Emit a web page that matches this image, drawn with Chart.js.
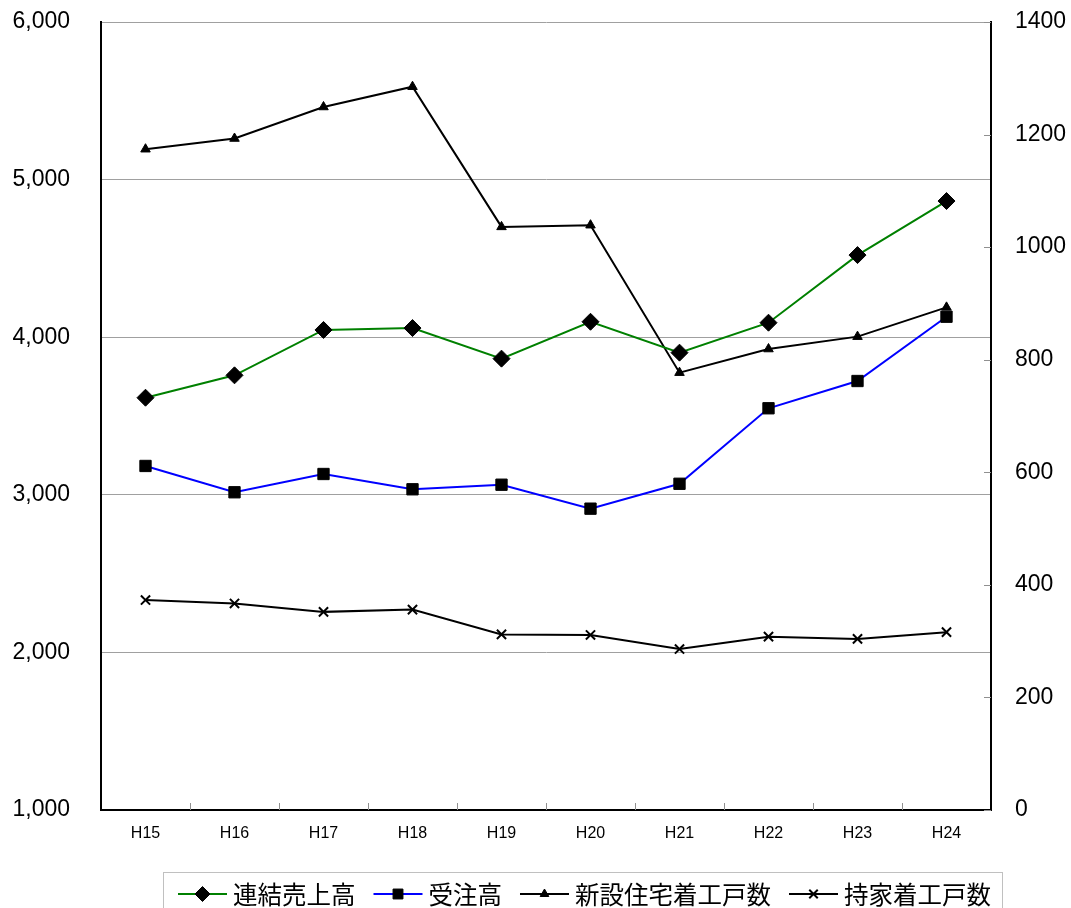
<!DOCTYPE html>
<html>
<head>
<meta charset="utf-8">
<script src="https://cdn.jsdelivr.net/npm/chart.js@4"></script>
<style>
	body { margin: 0; background: #fff; }
	canvas { display: block; }
</style>
</head>
<body>
<canvas id="salesChart" width="1071" height="908"></canvas>
<script>
const years = ['H15', 'H16', 'H17', 'H18', 'H19', 'H20', 'H21', 'H22', 'H23', 'H24']
// 左軸 (百万円)
const consolidatedSales = [3616, 3758, 4046, 4058, 3864, 4098, 3902, 4092, 4521, 4864]
const ordersReceived = [3183, 3016, 3132, 3035, 3064, 2912, 3070, 3549, 3722, 4130]
// 右軸 (千戸)
const housingStarts = [1174, 1193, 1249, 1285, 1036, 1039, 777, 819, 841, 893]
const ownerHousingStarts = [373, 367, 352, 356, 312, 311, 286, 308, 304, 316]
const leftTicks = [1000, 2000, 3000, 4000, 5000, 6000]
const rightTicks = [0, 200, 400, 600, 800, 1000, 1200, 1400]

const numFont = { family: '"Liberation Sans", Arial, sans-serif', size: 23 }
const jpFont = '"Noto Sans CJK JP", sans-serif'

// keep the plot area where the original has it
function fixedWidth(w) {
	return (scale) => {
		scale.width = w
		scale.paddingTop = 0
		scale.paddingBottom = 0
	}
}

// inward tick marks on the category axis and right axis
const axisTicks = {
	id: 'axisTicks',
	afterDatasetsDraw(chart) {
		const { ctx, chartArea, scales } = chart
		const x = scales.x
		const y1 = scales.y1
		ctx.save()
		ctx.strokeStyle = '#909090'
		ctx.lineWidth = 1
		ctx.beginPath()
		for (let i = 1; i < x.ticks.length; i++) {
			const px = Math.round((x.getPixelForTick(i - 1) + x.getPixelForTick(i)) / 2) + 0.5
			ctx.moveTo(px, chartArea.bottom)
			ctx.lineTo(px, chartArea.bottom - 7)
		}
		y1.ticks.forEach((t, i) => {
			const py = Math.round(y1.getPixelForTick(i)) + 0.5
			ctx.moveTo(chartArea.right - 7, py)
			ctx.lineTo(chartArea.right, py)
		})
		ctx.stroke()
		ctx.restore()
	},
}

// boxed legend with line + marker samples, as in the original
const boxLegend = {
	id: 'boxLegend',
	afterDraw(chart) {
		const { ctx } = chart
		const top = 872
		const left = 163
		const right = 1002
		const cy = 894
		ctx.save()
		ctx.strokeStyle = '#c0c0c0'
		ctx.lineWidth = 1
		ctx.strokeRect(left + 0.5, top + 0.5, right - left, 60)
		ctx.font = '24.5px ' + jpFont
		ctx.textBaseline = 'middle'
		let cx = 178
		chart.data.datasets.forEach((ds) => {
			ctx.strokeStyle = ds.borderColor
			ctx.lineWidth = 2
			ctx.beginPath()
			ctx.moveTo(cx, cy)
			ctx.lineTo(cx + 49, cy)
			ctx.stroke()
			ctx.fillStyle = '#000'
			ctx.strokeStyle = '#000'
			ctx.lineWidth = ds.pointBorderWidth
			Chart.helpers.drawPoint(ctx, {
				pointStyle: ds.pointStyle,
				radius: ds.legendRadius,
				rotation: 0,
				borderWidth: ds.pointBorderWidth,
			}, cx + 24.5, cy)
			ctx.fillStyle = '#000'
			ctx.fillText(ds.label, cx + 55, cy + 1)
			cx += 55 + ctx.measureText(ds.label).width + 18
		})
		ctx.restore()
	},
}

const ctx = document.getElementById('salesChart')
new Chart(ctx.getContext('2d'), {
	type: 'line',
	data: {
		labels: years,
		datasets: [
			{
				label: '連結売上高',
				data: consolidatedSales,
				yAxisID: 'y',
				borderColor: '#008000',
				borderWidth: 2,
				pointStyle: 'rectRot',
				pointRadius: 8.5,
				legendRadius: 7.5,
				pointBackgroundColor: '#000',
				pointBorderColor: '#000',
				pointBorderWidth: 1,
			},
			{
				label: '受注高',
				data: ordersReceived,
				yAxisID: 'y',
				borderColor: '#0000ff',
				borderWidth: 2,
				pointStyle: 'rect',
				pointRadius: 8,
				legendRadius: 7,
				pointBackgroundColor: '#000',
				pointBorderColor: '#000',
				pointBorderWidth: 1,
			},
			{
				label: '新設住宅着工戸数',
				data: housingStarts,
				yAxisID: 'y1',
				borderColor: '#000',
				borderWidth: 2,
				pointStyle: 'triangle',
				pointRadius: 5.5,
				legendRadius: 5,
				pointBackgroundColor: '#000',
				pointBorderColor: '#000',
				pointBorderWidth: 1,
			},
			{
				label: '持家着工戸数',
				data: ownerHousingStarts,
				yAxisID: 'y1',
				borderColor: '#000',
				borderWidth: 2,
				pointStyle: 'crossRot',
				pointRadius: 6.5,
				legendRadius: 6,
				pointBackgroundColor: '#000',
				pointBorderColor: '#000',
				pointBorderWidth: 2,
			},
		],
	},
	options: {
		responsive: false,
		devicePixelRatio: 1,
		animation: false,
		events: [],
		layout: { padding: { top: 22, left: 0, right: 0, bottom: 0 } },
		plugins: {
			legend: { display: false },
			tooltip: { enabled: false },
		},
		elements: { line: { tension: 0 } },
		scales: {
			x: {
				offset: true,
				grid: { display: false, drawTicks: false },
				border: { display: true, color: '#000', width: 2 },
				ticks: {
					color: '#000',
					font: { family: '"Liberation Sans", Arial, sans-serif', size: 16 },
					padding: 14,
					maxRotation: 0,
				},
				afterFit(scale) {
					scale.height = 98
					scale.paddingLeft = 0
					scale.paddingRight = 0
				},
			},
			y: {
				position: 'left',
				min: 1000,
				max: 6000,
				afterBuildTicks(scale) { scale.ticks = leftTicks.map((v) => ({ value: v })) },
				grid: { color: '#a0a0a0', lineWidth: 1, drawTicks: false },
				border: { display: true, color: '#000', width: 2 },
				ticks: {
					color: '#000',
					font: numFont,
					padding: 31,
					callback: (v) => v.toLocaleString('en-US'),
				},
				afterFit: fixedWidth(101),
			},
			y1: {
				position: 'right',
				min: 0,
				max: 1400,
				afterBuildTicks(scale) { scale.ticks = rightTicks.map((v) => ({ value: v })) },
				grid: { display: false, drawOnChartArea: false, drawTicks: false },
				border: { display: true, color: '#000', width: 2 },
				ticks: {
					color: '#000',
					font: numFont,
					padding: 24,
					callback: (v) => String(v),
				},
				afterFit: fixedWidth(80),
			},
		},
	},
	plugins: [axisTicks, boxLegend],
})
</script>
</body>
</html>
